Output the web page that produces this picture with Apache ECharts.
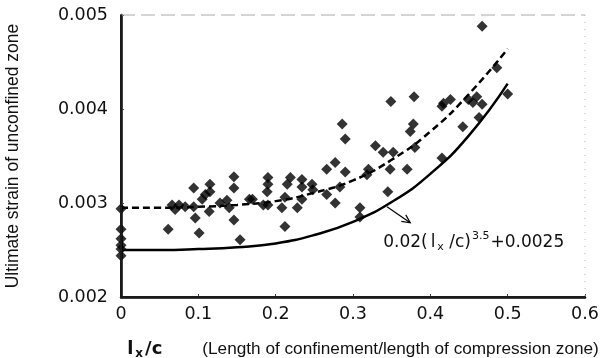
<!DOCTYPE html>
<html>
<head>
<meta charset="utf-8">
<script src="https://cdn.jsdelivr.net/npm/echarts@6/dist/echarts.min.js"></script>
<style>
html,body{margin:0;padding:0;background:#fff;}
#c{width:613px;height:358px;}
</style>
</head>
<body>
<div id="c"></div>
<script>
// Test data
const pointX = [0,0,0,0,0,0,
  0.061,0.066,0.070,0.075,0.083,0.094,0.094,0.096,0.101,0.105,0.109,0.114,0.115,0.115,0.128,0.137,0.140,0.146,0.146,0.146,0.154,0.166,
  0.170,0.184,0.190,0.190,0.190,0.189,0.212,0.208,0.219,0.215,0.234,0.234,0.234,0.228,0.247,0.248,0.212,
  0.266,0.266,0.277,0.277,0.283,0.286,0.290,0.290,0.309,0.309,0.318,0.320,0.329,0.339,0.352,0.348,0.370,0.345,0.349,0.379,0.378,0.374,0.380,
  0.415,0.415,0.417,0.426,0.442,0.449,0.455,0.460,0.463,0.467,0.467,0.486,0.500];
const pointY = [0.00294,0.00272,0.00262,0.00255,0.00251,0.00244,
  0.00272,0.00298,0.00293,0.00298,0.00296,0.00316,0.00296,0.00284,0.00268,0.00304,0.00309,0.00291,0.00320,0.00312,0.00300,0.00303,0.00295,0.00328,0.00316,0.00282,0.00261,0.00304,
  0.00304,0.00298,0.00298,0.00327,0.00320,0.00312,0.00306,0.00295,0.00327,0.00320,0.00325,0.00317,0.00304,0.00295,0.00320,0.00314,0.00275,
  0.00336,0.00309,0.00343,0.00300,0.00317,0.00384,0.00368,0.00333,0.00295,0.00285,0.00330,0.00336,0.00361,0.00354,0.00354,0.00336,0.00336,0.00312,0.00408,0.00413,0.00384,0.00376,0.00359,
  0.00348,0.00403,0.00406,0.00410,0.00381,0.00410,0.00407,0.00413,0.00391,0.00405,0.00488,0.00444,0.00416];

// Fitted curves
const curveX  = [0, 0.05, 0.10, 0.15, 0.20, 0.25, 0.30, 0.35, 0.40, 0.45, 0.50];
const solidY  = [0.00250, 0.00250, 0.00251, 0.00253, 0.00257, 0.00266, 0.00280, 0.00301, 0.00331, 0.00372, 0.00427];
const dashedY = [0.00295, 0.00295, 0.00296, 0.00298, 0.00302, 0.00311, 0.00324, 0.00346, 0.00376, 0.00416, 0.00464];

// Axis ticks
const xTicks = [0, 0.1, 0.2, 0.3, 0.4, 0.5, 0.6];
const yTicks = [0.002, 0.003, 0.004, 0.005];

// Annotation anchors (data coordinates)
const arrowFrom = [0.344, 0.00296];
const arrowTo = [0.374, 0.00279];
const labelAt = [0.339, 0.00258];

const zip = (a, b) => a.map((v, i) => [v, b[i]]);
const xMin = xTicks[0], xMax = xTicks[xTicks.length - 1];
const yMin = yTicks[0], yMax = yTicks[yTicks.length - 1];

const W = 613, H = 358;
const G = {left: 121, right: 28, top: 15, bottom: 61};
const gx0 = G.left, gx1 = W - G.right, gy0 = G.top, gy1 = H - G.bottom;

const chart = echarts.init(document.getElementById('c'), null, {renderer: 'canvas'});
const tickFont = {fontFamily: 'DejaVu Sans', fontSize: 17.5, color: '#111'};

chart.setOption({
  animation: false,
  backgroundColor: '#fff',
  grid: {left: G.left, right: G.right, top: G.top, bottom: G.bottom, containLabel: false, outerBoundsMode: 'none'},
  xAxis: {
    type: 'value', min: xMin, max: xMax, interval: 0.1,
    axisLine: {show: true, lineStyle: {color: '#000', width: 2.5}},
    axisTick: {show: true, inside: true, length: 3, lineStyle: {color: '#444'}},
    splitLine: {show: false},
    axisLabel: Object.assign({margin: 8, formatter: v => (Math.round(v * 10) / 10).toString()}, tickFont),
    nameLocation: 'middle', nameGap: 42,
    name: '{l|l}{sub|x}{c|/c}{n|(Length of confinement/length of compression zone)}',
    nameTextStyle: {
      padding: [0, 0, 0, 20],
      rich: {
        l: {fontFamily: 'DejaVu Sans', fontSize: 18, fontWeight: 'bold', color: '#111'},
        sub: {fontFamily: 'DejaVu Sans', fontSize: 12, fontWeight: 'bold', color: '#111', padding: [9, 2, 0, 2]},
        c: {fontFamily: 'DejaVu Sans', fontSize: 18, fontWeight: 'bold', color: '#111'},
        n: {fontFamily: 'Liberation Sans', fontSize: 17.2, color: '#111', padding: [0, 0, 0, 40]}
      }
    }
  },
  yAxis: {
    type: 'value', min: yMin, max: yMax, interval: 0.001,
    axisLine: {show: true, lineStyle: {color: '#000', width: 2.5}},
    axisTick: {show: true, inside: true, length: 3, lineStyle: {color: '#444'}},
    splitLine: {show: false},
    axisLabel: Object.assign({margin: 13, formatter: v => v.toFixed(3)}, tickFont),
    name: 'Ultimate strain of unconfined zone',
    nameLocation: 'middle', nameGap: 99,
    nameTextStyle: {fontFamily: 'Liberation Sans', fontSize: 17.5, color: '#111'}
  },
  series: [{
    type: 'scatter', symbol: 'diamond', symbolSize: 11,
    itemStyle: {color: '#000'},
    data: zip(pointX, pointY), z: 3
  }, {
    type: 'line', smooth: true, showSymbol: false, symbol: 'none',
    lineStyle: {color: '#000', width: 2.5},
    data: zip(curveX, solidY), z: 2
  }, {
    type: 'line', smooth: true, showSymbol: false, symbol: 'none',
    lineStyle: {color: '#000', width: 2.5, type: [7, 4]},
    data: zip(curveX, dashedY), z: 2
  }]
});

const px = c => chart.convertToPixel({gridIndex: 0}, c).slice();
const p0 = px(arrowFrom), p1 = px(arrowTo), pt = px(labelAt);
const ang = Math.atan2(p1[1] - p0[1], p1[0] - p0[0]);
const hl = 9, ha = 0.45;
const h1 = [p1[0] - hl * Math.cos(ang - ha), p1[1] - hl * Math.sin(ang - ha)];
const h2 = [p1[0] - hl * Math.cos(ang + ha), p1[1] - hl * Math.sin(ang + ha)];

chart.setOption({
  graphic: [{
    type: 'polyline', z: 50, shape: {points: [[gx0, gy0], [gx1, gy0]]}, style: {stroke: '#aaa', lineWidth: 1, lineDash: [14, 6], fill: null}
  }, {
    type: 'polyline', z: 50, shape: {points: [[gx1, gy0], [gx1, gy1]]}, style: {stroke: '#bbb', lineWidth: 1, lineDash: [1, 6], fill: null}
  }, {
    type: 'rect', z: 50, shape: {x: gx0 - 1, y: gy0, width: 2, height: gy1 - gy0 + 1}, style: {fill: '#1a1a1a'}
  }, {
    type: 'rect', z: 50, shape: {x: gx0 - 1, y: gy1 - 1, width: gx1 - gx0 + 1, height: 2}, style: {fill: '#1a1a1a'}
  }, {
    type: 'polyline', z: 50, shape: {points: [p0, p1]}, style: {stroke: '#000', lineWidth: 1.2, fill: null}
  }, {
    type: 'polyline', z: 50, shape: {points: [h1, p1, h2]}, style: {stroke: '#000', lineWidth: 1.2, fill: null}
  }, {
    type: 'text', z: 50, x: pt[0], y: pt[1],
    style: {
      text: '{a|0.02(}{l|l}{s|x}{a| /c)}{p|3.5}{a|+0.0025}',
      verticalAlign: 'middle', align: 'left',
      rich: {
        a: {fontFamily: 'DejaVu Sans', fontSize: 17, fill: '#111'},
        l: {fontFamily: 'DejaVu Sans', fontSize: 17, fill: '#111', padding: [0, 0, 0, 3]},
        s: {fontFamily: 'DejaVu Sans', fontSize: 11, fill: '#111', padding: [10, 0, 0, 2]},
        p: {fontFamily: 'DejaVu Sans', fontSize: 11, fill: '#111', padding: [0, 1, 13, 1]}
      }
    }
  }]
});
</script>
</body>
</html>
